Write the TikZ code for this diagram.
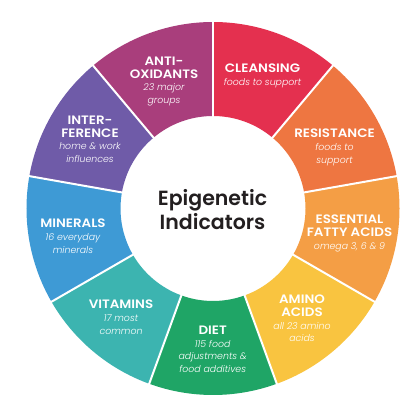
\documentclass[tikz,border=0pt]{standalone}
\usepackage{fontspec}
\newfontfamily\hdrf{Poppins SemiBold}[FakeStretch=1.1]
\newfontfamily\titf{Poppins SemiBold}
\newfontfamily\subf{Poppins Light Italic}
\newcommand\subt[1]{{\subf\fontsize{9.4}{12.6}\selectfont #1}}
\definecolor{cAnti}{HTML}{A93E7C}
\definecolor{cClean}{HTML}{E4304F}
\definecolor{cResist}{HTML}{EE7641}
\definecolor{cEss}{HTML}{F49E45}
\definecolor{cAmino}{HTML}{F9C440}
\definecolor{cDiet}{HTML}{1FA566}
\definecolor{cVit}{HTML}{3CB4B0}
\definecolor{cMin}{HTML}{3E9AD5}
\definecolor{cInter}{HTML}{6F5BA8}
\definecolor{cTitle}{HTML}{231F20}
\newcommand\mysector[3]{%
  \fill[#3] ([shift={(#1:186.5)}]c) arc[start angle=#1,end angle=#2,radius=186.5]
    -- ([shift={(#2:92.5)}]c) arc[start angle=#2,end angle=#1,radius=92.5] -- cycle;}
\begin{document}
\begin{tikzpicture}[x=1pt,y=1pt,
  lbl/.style={text=white,align=center,inner sep=0pt,anchor=north,
    font=\hdrf\fontsize{12.2}{12.6}\selectfont},
  sepline/.style={white,line width=2pt}]
\useasboundingbox (0,0) rectangle (417,420);
\fill[white] (0,0) rectangle (417,420);
\coordinate (c) at (213,211.5);
\mysector{50}{90}{cClean}
\mysector{10}{50}{cResist}
\mysector{-30}{10}{cEss}
\mysector{-70}{-30}{cAmino}
\mysector{-110}{-70}{cDiet}
\mysector{-150}{-110}{cVit}
\mysector{170}{210}{cMin}
\mysector{130}{170}{cInter}
\mysector{90}{130}{cAnti}
\foreach \a in {90,50,10,-30,-70,-110,-150,170,130}
  \draw[sepline] ([shift={(\a:90)}]c) -- ([shift={(\a:189)}]c);
\node[lbl] (anti) at (164,363) {ANTI-\\OXIDANTS\\\subt{23 major}\\\subt{groups}};
\node[lbl] (inter) at (90,304) {INTER-\\FERENCE\\\subt{home \& work}\\\subt{influences}};
\node[lbl] (clean) at (262.5,356) {CLEANSING\\\subt{foods to support}};
\node[lbl] (resist) at (334.5,291) {RESISTANCE\\\subt{foods to}\\\subt{support}};
\node[lbl] (ess) at (349.5,205) {ESSENTIAL\\FATTY ACIDS\\\subt{omega 3, 6 \& 9}};
\node[lbl] (amino) at (302,125) {AMINO\\ACIDS\\\subt{all 23 amino}\\\subt{acids}};
\node[lbl] (diet) at (212.7,94) {DIET\\\subt{115 food}\\\subt{adjustments \&}\\\subt{food additives}};
\node[lbl] (vit) at (121,120) {VITAMINS\\\subt{17 most}\\\subt{common}};
\node[lbl] (min) at (73,201) {MINERALS\\\subt{16 everyday}\\\subt{minerals}};
\node[text=cTitle,align=center,inner sep=0pt,anchor=north,
  font=\titf\fontsize{20.5}{24}\selectfont] (title) at (212.5,231) {Epigenetic\\Indicators};
\end{tikzpicture}
\end{document}
